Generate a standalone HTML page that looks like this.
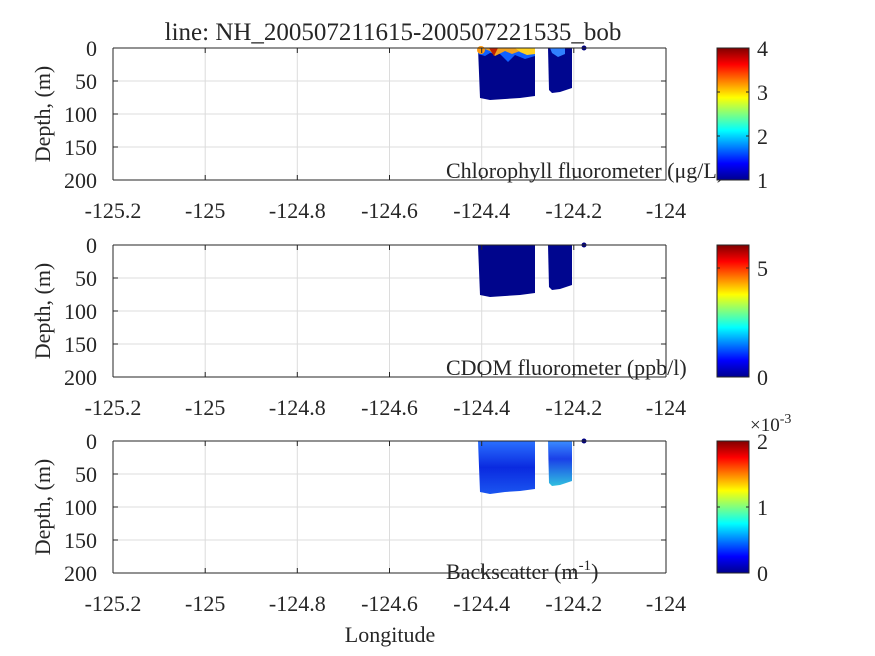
<!DOCTYPE html>
<html><head><meta charset="utf-8"><style>body{margin:0;background:#fff}svg{display:block}text{font-family:"Liberation Serif",serif;fill:#262626}</style></head><body>
<svg width="875" height="656" viewBox="0 0 875 656" xmlns="http://www.w3.org/2000/svg">
<defs>
<linearGradient id="jet" x1="0" y1="1" x2="0" y2="0">
<stop offset="0" stop-color="#00008f"/><stop offset="0.125" stop-color="#0000ff"/><stop offset="0.375" stop-color="#00ffff"/><stop offset="0.625" stop-color="#ffff00"/><stop offset="0.875" stop-color="#ff0000"/><stop offset="1" stop-color="#800000"/>
</linearGradient>
<linearGradient id="b3" x1="0" y1="0" x2="0" y2="1"><stop offset="0" stop-color="#2a70ff"/><stop offset="0.5" stop-color="#0a2ae0"/><stop offset="1" stop-color="#1a55f0"/></linearGradient>
<linearGradient id="b3b" x1="0" y1="0" x2="0" y2="1"><stop offset="0" stop-color="#3a8cff"/><stop offset="0.4" stop-color="#1a40e8"/><stop offset="1" stop-color="#30c0e0"/></linearGradient>
<g id="grid" stroke="#dcdcdc" stroke-width="1">
<line x1="205.2" y1="0" x2="205.2" y2="132"/><line x1="297.3" y1="0" x2="297.3" y2="132"/><line x1="389.5" y1="0" x2="389.5" y2="132"/><line x1="481.7" y1="0" x2="481.7" y2="132"/><line x1="573.8" y1="0" x2="573.8" y2="132"/>
<line x1="113" y1="33" x2="666" y2="33"/><line x1="113" y1="66" x2="666" y2="66"/><line x1="113" y1="99" x2="666" y2="99"/>
</g>
<g id="axes" fill="none" stroke="#262626" stroke-width="1">
<line x1="113" y1="0" x2="666" y2="0"/><line x1="113" y1="132" x2="666" y2="132"/><line x1="113" y1="0" x2="113" y2="132"/><line x1="666" y1="0" x2="666" y2="132"/>
<path d="M113,132v-5M205.2,132v-5M297.3,132v-5M389.5,132v-5M481.7,132v-5M573.8,132v-5M666,132v-5M113,0v5M205.2,0v5M297.3,0v5M389.5,0v5M481.7,0v5M573.8,0v5M666,0v5"/>
<path d="M113,0h5M113,33h5M113,66h5M113,99h5M113,132h5M666,0h-5M666,33h-5M666,66h-5M666,99h-5M666,132h-5"/>
</g>
<g id="labels" font-size="22">
<text x="97" y="8" text-anchor="end">0</text><text x="97" y="41" text-anchor="end">50</text><text x="97" y="74" text-anchor="end">100</text><text x="97" y="107" text-anchor="end">150</text><text x="97" y="140" text-anchor="end">200</text>
<text x="113" y="170" text-anchor="middle">-125.2</text><text x="205.2" y="170" text-anchor="middle">-125</text><text x="297.3" y="170" text-anchor="middle">-124.8</text><text x="389.5" y="170" text-anchor="middle">-124.6</text><text x="481.7" y="170" text-anchor="middle">-124.4</text><text x="573.8" y="170" text-anchor="middle">-124.2</text><text x="666" y="170" text-anchor="middle">-124</text>
<text transform="translate(50,66) rotate(-90)" text-anchor="middle">Depth, (m)</text>
</g>
</defs>

<g transform="translate(0,48)">
<use href="#grid"/>
<path d="M478,0H535V48L520,50L505,51L490,52L480,50Z" fill="#00058c"/>
<path d="M548,0H572V40L560,44L552,45L549,42Z" fill="#00068f"/>
<path d="M478,0H535V8L525,11L515,7L508,14L500,6L490,5L485,8L478,6Z" fill="#1060ff"/>
<path d="M482,0H520V3L512,6L505,3L495,8L490,3Z" fill="#f0a020"/>
<path d="M489,0H498L494,8Z" fill="#c02000"/>
<path d="M515,0H535V6L527,7L520,4Z" fill="#ffd020"/>
<circle cx="481" cy="2" r="4" fill="#ff9a10"/>
<path d="M550,0H565V6L558,9L552,5Z" fill="#3080ff"/>
<circle cx="584" cy="0" r="2.5" fill="#000080"/>
<use href="#axes"/><use href="#labels"/>
<text x="446" y="130" font-size="22">Chlorophyll fluorometer (μg/L)</text>
<rect x="717" y="0" width="32" height="132" fill="url(#jet)" stroke="#262626"/>
<g font-size="22"><text x="757" y="8">4</text><text x="757" y="52">3</text><text x="757" y="96">2</text><text x="757" y="140">1</text></g>
<path d="M717,44h3M717,88h3M749,44h-3M749,88h-3" stroke="#262626"/>
</g>
<text x="393" y="40" font-size="25" text-anchor="middle">line: NH_200507211615-200507221535_bob</text>

<g transform="translate(0,245)">
<use href="#grid"/>
<path d="M478,0H535V48L520,50L505,51L490,52L480,50Z" fill="#00058c"/>
<path d="M548,0H572V40L560,44L552,45L549,42Z" fill="#00068f"/>
<circle cx="584" cy="0" r="2.5" fill="#000080"/>
<use href="#axes"/><use href="#labels"/>
<text x="446" y="130" font-size="22">CDOM fluorometer (ppb/l)</text>
<rect x="717" y="0" width="32" height="132" fill="url(#jet)" stroke="#262626"/>
<g font-size="22"><text x="757" y="31">5</text><text x="757" y="140">0</text></g>
<path d="M717,23h3M749,23h-3" stroke="#262626"/>
</g>

<g transform="translate(0,441)">
<use href="#grid"/>
<path d="M478,0H535V48L520,50L505,51L490,53L480,51Z" fill="url(#b3)"/>
<path d="M548,0H572V40L560,44L552,45L549,42Z" fill="url(#b3b)"/>
<circle cx="584" cy="0" r="2.5" fill="#000080"/>
<use href="#axes"/><use href="#labels"/>
<text x="446" y="138" font-size="22">Backscatter (m<tspan font-size="15" dy="-9">-1</tspan><tspan dy="9">)</tspan></text>
<rect x="717" y="0" width="32" height="132" fill="url(#jet)" stroke="#262626"/>
<g font-size="22"><text x="757" y="8">2</text><text x="757" y="74">1</text><text x="757" y="140">0</text></g>
<path d="M717,66h3M749,66h-3" stroke="#262626"/>
<text x="750" y="-10" font-size="19">×10<tspan font-size="14" dy="-8">-3</tspan></text>
</g>
<text x="390" y="642" font-size="22" text-anchor="middle">Longitude</text>
</svg>
</body></html>
